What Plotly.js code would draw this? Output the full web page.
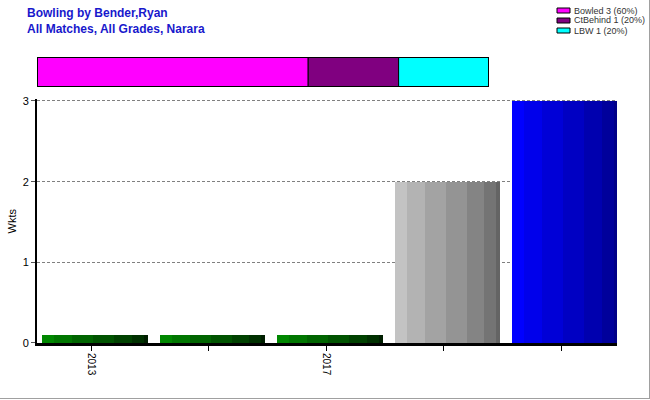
<!DOCTYPE html>
<html><head><meta charset="utf-8">
<script src="https://cdn.plot.ly/plotly-3.0.1.min.js"></script>
<style>
html,body{margin:0;padding:0;background:#fff}
#chart{width:649px;height:398px;border-right:1px solid #a0a0a0;border-bottom:1px solid #a0a0a0;}
</style></head><body><div id="chart"></div>
<script>
// ---- data ----
const seasons = ['2013', '', '2017', '', ''];
const wickets = [0.1, 0.1, 0.1, 2, 3];
const yTicks = [0, 1, 2, 3];
const dismissals = ['Bowled', 'CtBehind', 'LBW'];
const dismissalCounts = [3, 1, 1];

// ---- styles ----
const ramps = {
  green: [[0, 135, 0], [0, 30, 0]],
  gray: [[195, 195, 195], [100, 100, 100]],
  blue: [[0, 0, 255], [0, 0, 135]]
};
const barRamp = ['green', 'green', 'green', 'gray', 'blue'];
const stripFrac = [12, 18, 21, 21, 18, 12, 4];
const dismissalColors = ['#ff00ff', '#800080', '#00ffff'];
const barWidth = 0.902;
const tickShift = -0.034;
const yTop = 3.02;

// plot area in px
const PL = 37, PR = 617, PT = 50, PB = 343;
const W = PR - PL, H = PB - PT;
const px = v => (v - PL) / W;
const py = v => (PB - v) / H;

const idx = seasons.map((_, i) => i);
const fracSum = stripFrac.reduce((a, b) => a + b, 0);
function mix(r, t) {
  const a = ramps[r][0], b = ramps[r][1];
  return 'rgb(' + a.map((v, k) => Math.round(v + (b[k] - v) * t)).join(',') + ')';
}
const traces = [];
let cum = 0;
stripFrac.forEach((f, s) => {
  const w = barWidth * f / fracSum;
  const t = s / (stripFrac.length - 1);
  traces.push({
    type: 'bar', x: idx, y: wickets,
    width: w, offset: -barWidth / 2 + cum,
    marker: { color: barRamp.map(r => mix(r, t)), line: { width: 0 } },
    showlegend: false, hoverinfo: 'skip', xaxis: 'x', yaxis: 'y'
  });
  cum += w;
});

const total = dismissalCounts.reduce((a, b) => a + b, 0);
const shapes = [];
const annotations = [];
let base = 0;
dismissals.forEach((d, i) => {
  const c = dismissalCounts[i];
  const label = d + ' ' + c + ' (' + Math.round(100 * c / total) + '%)';
  traces.push({
    type: 'bar', orientation: 'h', x: [c], y: [0], base: [base], width: 1,
    xaxis: 'x2', yaxis: 'y2', name: label, showlegend: false,
    marker: { color: dismissalColors[i], line: { color: '#000', width: 1 } },
    hoverinfo: 'name'
  });
  base += c;
  // custom legend entry
  const rowY = 10.5 + i * 10;
  shapes.push({
    type: 'rect', xref: 'paper', yref: 'paper',
    x0: px(557), x1: px(570), y0: py(rowY + 2.5), y1: py(rowY - 2.5),
    fillcolor: dismissalColors[i], line: { color: '#000', width: 1 }
  });
  annotations.push({
    xref: 'paper', yref: 'paper', x: px(572), y: py(rowY),
    xanchor: 'left', yanchor: 'middle', showarrow: false, text: label,
    font: { family: 'Liberation Sans, Arial, sans-serif', size: 9, color: '#333' }
  });
});
shapes.push({
  type: 'rect', xref: 'x2', yref: 'y2', x0: 0, x1: total, y0: -0.5, y1: 0.5,
  line: { color: '#000', width: 2 }, fillcolor: 'rgba(0,0,0,0)'
});

const layout = {
  width: 649, height: 398,
  margin: { l: PL, r: 649 - PR, t: PT, b: 398 - PB, pad: 0, autoexpand: false },
  paper_bgcolor: '#fff', plot_bgcolor: '#fff',
  barmode: 'overlay', bargap: 0,
  font: { family: 'Liberation Sans, Arial, sans-serif', color: '#000' },
  title: {
    text: 'Bowling by Bender,Ryan<br>All Matches, All Grades, Narara',
    font: { family: 'Liberation Sans Narrow, Liberation Sans, Arial, sans-serif', size: 12, color: '#1818cc', weight: 'bold' },
    xref: 'container', x: 27 / 649, xanchor: 'left',
    yref: 'container', y: 1 - 17 / 398, yanchor: 'top', pad: { t: 0, l: 0 }
  },
  showlegend: false,
  xaxis: {
    domain: [0, 1],
    range: [(PL - 95) / 117.5, (PR - 95) / 117.5],
    tickmode: 'array', tickvals: idx.map(i => i + tickShift), ticktext: seasons, tickangle: 90,
    ticks: 'outside', ticklen: 5, tickcolor: '#000', tickwidth: 1,
    showline: true, linewidth: 3, linecolor: '#000', showgrid: false, zeroline: false,
    tickfont: { size: 10 }, fixedrange: true, anchor: 'y'
  },
  yaxis: {
    domain: [0, (242 * yTop / 3) / H], range: [0, yTop],
    tickmode: 'array', tickvals: yTicks,
    ticks: 'outside', ticklen: 4, tickcolor: '#555', tickwidth: 1,
    showline: true, linewidth: 2, linecolor: '#000',
    showgrid: true, gridcolor: '#808080', griddash: '3px,2px', gridwidth: 1,
    zeroline: false, tickfont: { size: 11 },
    title: { text: 'Wkts', font: { size: 11 }, standoff: 4 },
    fixedrange: true, anchor: 'x'
  },
  xaxis2: { domain: [0, px(489)], range: [0, total], visible: false, anchor: 'y2', fixedrange: true },
  yaxis2: { domain: [py(87), py(57)], range: [-0.5, 0.5], visible: false, anchor: 'x2', fixedrange: true },
  shapes: shapes,
  annotations: annotations
};

Plotly.newPlot('chart', traces, layout, { displayModeBar: false, staticPlot: true });
</script></body></html>
